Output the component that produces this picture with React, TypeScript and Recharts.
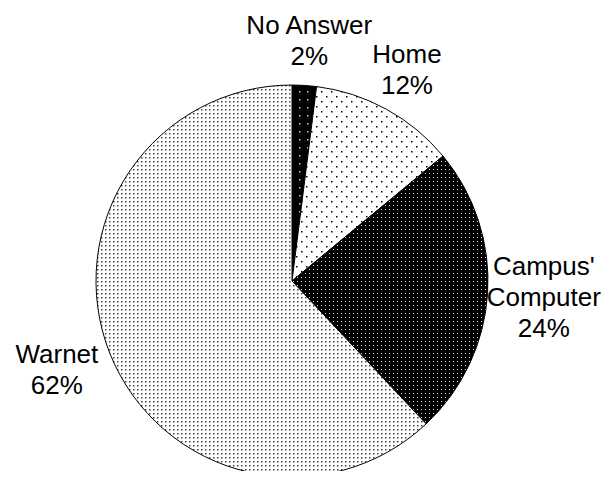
import React from "react";
import { PieChart, Pie, Cell } from "recharts";

const categories = ["No Answer", "Home", "Campus' Computer", "Warnet"];
const labelLines = [["No Answer"], ["Home"], ["Campus'", "Computer"], ["Warnet"]];
const values = [2, 12, 24, 62];

const patternIds = ["patNoAnswer", "patHome", "patCampus", "patWarnet"];

const data = categories.map((name, i) => ({ name, value: values[i], idx: i }));

const CHART_W = 613;
const CHART_H = 479;
const FONT = "'Liberation Sans', Arial, sans-serif";
const FONT_SIZE = 26;
const LINE_H = 31;
const RAD = Math.PI / 180;

const textWidth = (s: string) => s.length * 0.55 * FONT_SIZE;

const renderLabel = (props: any) => {
  const { cx, cy, midAngle, outerRadius, index } = props;
  const lines = [...labelLines[index], `${values[index]}%`];
  const r = outerRadius + 14;
  const cos = Math.cos(-midAngle * RAD);
  const sin = Math.sin(-midAngle * RAD);
  const ax = cx + r * cos;
  const ay = cy + r * sin;
  const w = Math.max(...lines.map(textWidth));
  const h = lines.length * LINE_H;
  let bx = ax + (cos * w) / 2;
  const by = ay + (sin * h) / 2;
  // keep label inside the chart
  if (bx + w / 2 > CHART_W - 12) bx = CHART_W - 12 - w / 2;
  if (bx - w / 2 < 1) bx = 1 + w / 2;
  const top = by - h / 2;
  return (
    <text
      key={`lbl-${index}`}
      textAnchor="middle"
      fontFamily={FONT}
      fontSize={FONT_SIZE}
      fill="#000"
    >
      {lines.map((l, j) => (
        <tspan key={j} x={bx} y={top + j * LINE_H + LINE_H / 2 + 9}>
          {l}
        </tspan>
      ))}
    </text>
  );
};

export default function App() {
  return (
    <div style={{ margin: -8, width: CHART_W, height: CHART_H, background: "#fff" }}>
      <svg width={0} height={0} style={{ position: "absolute" }}>
        <defs>
          <pattern id="patNoAnswer" width={8} height={8} patternUnits="userSpaceOnUse">
            <rect width={8} height={8} fill="#000" />
            <rect x={3} y={3} width={1.5} height={1.5} fill="#ccc" />
          </pattern>
          <pattern id="patHome" width={10} height={10} patternUnits="userSpaceOnUse">
            <rect width={10} height={10} fill="#fff" />
            <rect x={1} y={1} width={1.5} height={1.5} fill="#000" />
            <rect x={6} y={6} width={1.5} height={1.5} fill="#000" />
          </pattern>
          <pattern id="patCampus" width={4} height={4} patternUnits="userSpaceOnUse">
            <rect width={4} height={4} fill="#000" />
            <rect x={1} y={1} width={1} height={1} fill="#ddd" />
          </pattern>
          <pattern id="patWarnet" width={4} height={4} patternUnits="userSpaceOnUse">
            <rect width={4} height={4} fill="#fff" />
            <rect x={1} y={1} width={1.5} height={1.5} fill="#444" />
          </pattern>
        </defs>
      </svg>
      <PieChart width={CHART_W} height={CHART_H} margin={{ top: 0, right: 0, bottom: 0, left: 0 }}>
        <Pie
          data={data}
          dataKey="value"
          nameKey="name"
          cx={292}
          cy={281}
          outerRadius={196}
          startAngle={90}
          endAngle={-270}
          stroke="#000"
          strokeWidth={1}
          label={renderLabel}
          labelLine={false}
          isAnimationActive={false}
        >
          {data.map((d, i) => (
            <Cell key={d.name} fill={`url(#${patternIds[i]})`} />
          ))}
        </Pie>
      </PieChart>
    </div>
  );
}
